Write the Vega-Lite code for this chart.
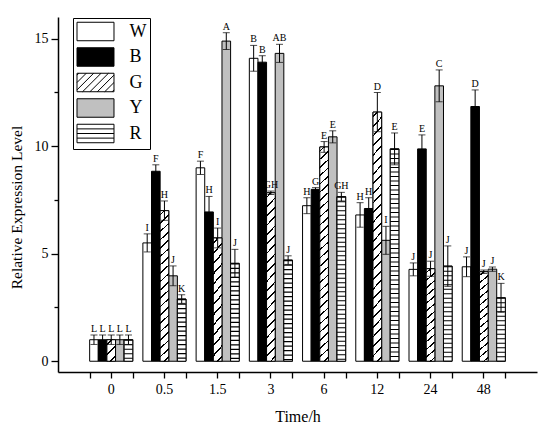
{
  "$schema": "https://vega.github.io/schema/vega-lite/v6.json",
  "width": 479,
  "height": 355,
  "autosize": "none",
  "padding": {"left": 58, "top": 17, "right": 13, "bottom": 64},
  "background": "white",
  "config": {
    "view": {"stroke": null},
    "font": "Liberation Serif",
    "axis": {"domainColor": "black", "tickColor": "black", "labelColor": "black", "titleColor": "black", "grid": false, "labelFont": "Liberation Serif", "titleFont": "Liberation Serif", "labelFontSize": 14, "titleFontSize": 16, "titleFontWeight": "normal", "tickWidth": 1.3}
  },
  "data": {"values": [
    {"time": "0", "series": "W", "value": 1.0, "lo": 0.78, "hi": 1.22, "letter": "L"},
    {"time": "0", "series": "B", "value": 1.0, "lo": 0.78, "hi": 1.22, "letter": "L"},
    {"time": "0", "series": "G", "value": 1.0, "lo": 0.78, "hi": 1.22, "letter": "L"},
    {"time": "0", "series": "Y", "value": 1.0, "lo": 0.78, "hi": 1.22, "letter": "L"},
    {"time": "0", "series": "R", "value": 1.0, "lo": 0.78, "hi": 1.22, "letter": "L"},
    {"time": "0.5", "series": "W", "value": 5.5, "lo": 5.08, "hi": 5.92, "letter": "I"},
    {"time": "0.5", "series": "B", "value": 8.83, "lo": 8.53, "hi": 9.13, "letter": "F"},
    {"time": "0.5", "series": "G", "value": 7.0, "lo": 6.55, "hi": 7.45, "letter": "H"},
    {"time": "0.5", "series": "Y", "value": 3.97, "lo": 3.51, "hi": 4.43, "letter": "J"},
    {"time": "0.5", "series": "R", "value": 2.89, "lo": 2.69, "hi": 3.09, "letter": "K"},
    {"time": "1.5", "series": "W", "value": 8.99, "lo": 8.68, "hi": 9.3, "letter": "F"},
    {"time": "1.5", "series": "B", "value": 6.94, "lo": 6.22, "hi": 7.66, "letter": "H"},
    {"time": "1.5", "series": "G", "value": 5.73, "lo": 5.27, "hi": 6.19, "letter": "I"},
    {"time": "1.5", "series": "Y", "value": 14.88, "lo": 14.49, "hi": 15.27, "letter": "A"},
    {"time": "1.5", "series": "R", "value": 4.55, "lo": 3.9, "hi": 5.2, "letter": "J"},
    {"time": "3", "series": "W", "value": 14.08, "lo": 13.48, "hi": 14.68, "letter": "B"},
    {"time": "3", "series": "B", "value": 13.9, "lo": 13.6, "hi": 14.2, "letter": "B"},
    {"time": "3", "series": "G", "value": 7.83, "lo": 7.75, "hi": 7.91, "letter": "GH"},
    {"time": "3", "series": "Y", "value": 14.31, "lo": 13.89, "hi": 14.73, "letter": "AB"},
    {"time": "3", "series": "R", "value": 4.7, "lo": 4.5, "hi": 4.9, "letter": "J"},
    {"time": "6", "series": "W", "value": 7.23, "lo": 6.86, "hi": 7.6, "letter": "H"},
    {"time": "6", "series": "B", "value": 7.99, "lo": 7.91, "hi": 8.07, "letter": "G"},
    {"time": "6", "series": "G", "value": 9.96, "lo": 9.71, "hi": 10.21, "letter": "E"},
    {"time": "6", "series": "Y", "value": 10.43, "lo": 10.15, "hi": 10.71, "letter": "E"},
    {"time": "6", "series": "R", "value": 7.65, "lo": 7.45, "hi": 7.85, "letter": "GH"},
    {"time": "12", "series": "W", "value": 6.8, "lo": 6.23, "hi": 7.37, "letter": "H"},
    {"time": "12", "series": "B", "value": 7.1, "lo": 6.6, "hi": 7.6, "letter": "H"},
    {"time": "12", "series": "G", "value": 11.58, "lo": 10.67, "hi": 12.49, "letter": "D"},
    {"time": "12", "series": "Y", "value": 5.62, "lo": 4.97, "hi": 6.27, "letter": "I"},
    {"time": "12", "series": "R", "value": 9.87, "lo": 9.13, "hi": 10.61, "letter": "E"},
    {"time": "24", "series": "W", "value": 4.27, "lo": 3.97, "hi": 4.57, "letter": "J"},
    {"time": "24", "series": "B", "value": 9.87, "lo": 9.22, "hi": 10.52, "letter": "E"},
    {"time": "24", "series": "G", "value": 4.3, "lo": 3.95, "hi": 4.65, "letter": "J"},
    {"time": "24", "series": "Y", "value": 12.8, "lo": 12.06, "hi": 13.54, "letter": "C"},
    {"time": "24", "series": "R", "value": 4.42, "lo": 3.48, "hi": 5.36, "letter": "J"},
    {"time": "48", "series": "W", "value": 4.39, "lo": 3.93, "hi": 4.85, "letter": "J"},
    {"time": "48", "series": "B", "value": 11.84, "lo": 11.07, "hi": 12.61, "letter": "D"},
    {"time": "48", "series": "G", "value": 4.16, "lo": 4.08, "hi": 4.24, "letter": "J"},
    {"time": "48", "series": "Y", "value": 4.28, "lo": 4.18, "hi": 4.38, "letter": "J"},
    {"time": "48", "series": "R", "value": 2.95, "lo": 2.28, "hi": 3.62, "letter": "K"}
  ]},
  "layer": [
    {
      "mark": {"type": "bar", "stroke": "black", "strokeWidth": 1},
      "encoding": {
        "x": {"field": "time", "type": "nominal", "sort": ["0", "0.5", "1.5", "3", "6", "12", "24", "48"], "scale": {"domain": ["0", "0.5", "1.5", "3", "6", "12", "24", "48"], "paddingInner": 0.19, "paddingOuter": 0.595},
              "axis": {"orient": "bottom", "title": "Time/h", "labelAngle": 0, "tickSize": 6, "labelPadding": 4, "titlePadding": 12, "domainWidth": 1.5}},
        "xOffset": {"field": "series", "type": "nominal", "sort": ["W", "B", "G", "Y", "R"], "scale": {"domain": ["W", "B", "G", "Y", "R"], "paddingInner": 0, "paddingOuter": 0}},
        "y": {"field": "value", "type": "quantitative", "scale": {"domain": [-0.5, 16], "nice": false, "zero": false},
              "axis": {"orient": "left", "title": "Relative Expression Level", "titleFontSize": 15.5, "titleY": 190, "values": [0, 5, 10, 15], "tickSize": 7, "labelPadding": 3, "titlePadding": 10, "domainWidth": 1.5}},
        "y2": {"datum": 0},
        "fill": {"field": "series", "type": "nominal",
          "scale": {"domain": ["W", "B", "G", "Y", "R"], "range": ["#ffffff", "#000000", "#ffffff", "#c0c0c0", "#ffffff"]},
          "legend": {"title": null, "orient": "none", "legendX": 15, "legendY": 1, "symbolType": "M-2,-1H2V1H-2Z", "symbolSize": 342, "symbolOffset": 9, "symbolStrokeColor": "black", "symbolStrokeWidth": 1, "symbolOpacity": 1, "labelFont": "Liberation Serif", "labelFontSize": 18, "labelColor": "black", "labelOffset": 24, "rowPadding": 1.5, "strokeColor": "black", "fillColor": "white", "padding": 3.5,
            "encode": {"symbols": {"update": {
              "stroke": {"value": "black"},
              "strokeWidth": {"value": 1},
              "fill": [
                {"test": "datum.value === 'B'", "value": "#000000"},
                {"test": "datum.value === 'Y'", "value": "#c0c0c0"},
                {"value": "#ffffff"}
              ],
              "shape": [
                {"test": "datum.value === 'G'", "value": "M-2,-1H2V1H-2Z M-2,-0.8L-1.8,-1 M-2,0L-1,-1 M-2,0.8L-0.2,-1 M-1.4,1L0.6,-1 M-0.6,1L1.4,-1 M0.2,1L2,-0.8 M1,1L2,0 M1.8,1L2,0.8"},
                {"test": "datum.value === 'R'", "value": "M-2,-1H2V1H-2Z M-2,-0.5H2 M-2,0H2 M-2,0.5H2"},
                {"value": "M-2,-1H2V1H-2Z"}
              ]
            }}}
          }
        }
      }
    },
    {
      "transform": [{"filter": "datum.series === 'G' || datum.series === 'R'"}],
      "mark": {"type": "bar", "stroke": "black", "strokeWidth": 1},
      "encoding": {
        "x": {"field": "time", "type": "nominal", "sort": ["0", "0.5", "1.5", "3", "6", "12", "24", "48"], "scale": {"domain": ["0", "0.5", "1.5", "3", "6", "12", "24", "48"]}, "axis": null},
        "xOffset": {"field": "series", "type": "nominal", "sort": ["W", "B", "G", "Y", "R"], "scale": {"domain": ["W", "B", "G", "Y", "R"]}},
        "y": {"field": "value", "type": "quantitative", "axis": null},
        "y2": {"datum": 0},
        "fill": {
          "condition": [
            {"test": "datum.series === 'R'", "value": "#ffffff"},
            {"test": "datum.value < 2", "value": {"gradient": "linear", "x1": 0, "y1": 0, "x2": 0.4716, "y2": 1.2065, "stops": [
              {"offset": 0.1373, "color": "#fff"}, {"offset": 0.1373, "color": "#000"}, {"offset": 0.1961, "color": "#000"}, {"offset": 0.1961, "color": "#fff"},
              {"offset": 0.4706, "color": "#fff"}, {"offset": 0.4706, "color": "#000"}, {"offset": 0.5294, "color": "#000"}, {"offset": 0.5294, "color": "#fff"},
              {"offset": 0.8039, "color": "#fff"}, {"offset": 0.8039, "color": "#000"}, {"offset": 0.8627, "color": "#000"}, {"offset": 0.8627, "color": "#fff"}]}},
            {"test": "datum.value < 6", "value": {"gradient": "linear", "x1": 0, "y1": 0, "x2": 0.0863, "y2": 1.0734, "stops": [
              {"offset": 0.0307, "color": "#fff"}, {"offset": 0.0307, "color": "#000"}, {"offset": 0.0463, "color": "#000"}, {"offset": 0.0463, "color": "#fff"},
              {"offset": 0.1076, "color": "#fff"}, {"offset": 0.1076, "color": "#000"}, {"offset": 0.1232, "color": "#000"}, {"offset": 0.1232, "color": "#fff"},
              {"offset": 0.1845, "color": "#fff"}, {"offset": 0.1845, "color": "#000"}, {"offset": 0.2001, "color": "#000"}, {"offset": 0.2001, "color": "#fff"},
              {"offset": 0.2614, "color": "#fff"}, {"offset": 0.2614, "color": "#000"}, {"offset": 0.277, "color": "#000"}, {"offset": 0.277, "color": "#fff"},
              {"offset": 0.3384, "color": "#fff"}, {"offset": 0.3384, "color": "#000"}, {"offset": 0.354, "color": "#000"}, {"offset": 0.354, "color": "#fff"},
              {"offset": 0.4153, "color": "#fff"}, {"offset": 0.4153, "color": "#000"}, {"offset": 0.4309, "color": "#000"}, {"offset": 0.4309, "color": "#fff"},
              {"offset": 0.4922, "color": "#fff"}, {"offset": 0.4922, "color": "#000"}, {"offset": 0.5078, "color": "#000"}, {"offset": 0.5078, "color": "#fff"},
              {"offset": 0.5691, "color": "#fff"}, {"offset": 0.5691, "color": "#000"}, {"offset": 0.5847, "color": "#000"}, {"offset": 0.5847, "color": "#fff"},
              {"offset": 0.646, "color": "#fff"}, {"offset": 0.646, "color": "#000"}, {"offset": 0.6616, "color": "#000"}, {"offset": 0.6616, "color": "#fff"},
              {"offset": 0.723, "color": "#fff"}, {"offset": 0.723, "color": "#000"}, {"offset": 0.7386, "color": "#000"}, {"offset": 0.7386, "color": "#fff"},
              {"offset": 0.7999, "color": "#fff"}, {"offset": 0.7999, "color": "#000"}, {"offset": 0.8155, "color": "#000"}, {"offset": 0.8155, "color": "#fff"},
              {"offset": 0.8768, "color": "#fff"}, {"offset": 0.8768, "color": "#000"}, {"offset": 0.8924, "color": "#000"}, {"offset": 0.8924, "color": "#fff"},
              {"offset": 0.9537, "color": "#fff"}, {"offset": 0.9537, "color": "#000"}, {"offset": 0.9693, "color": "#000"}, {"offset": 0.9693, "color": "#fff"}]}},
            {"test": "datum.value < 8.5", "value": {"gradient": "linear", "x1": 0, "y1": 0, "x2": 0.0565, "y2": 1.0507, "stops": [
              {"offset": 0.021, "color": "#fff"}, {"offset": 0.021, "color": "#000"}, {"offset": 0.0316, "color": "#000"}, {"offset": 0.0316, "color": "#fff"},
              {"offset": 0.0736, "color": "#fff"}, {"offset": 0.0736, "color": "#000"}, {"offset": 0.0842, "color": "#000"}, {"offset": 0.0842, "color": "#fff"},
              {"offset": 0.1263, "color": "#fff"}, {"offset": 0.1263, "color": "#000"}, {"offset": 0.1369, "color": "#000"}, {"offset": 0.1369, "color": "#fff"},
              {"offset": 0.1789, "color": "#fff"}, {"offset": 0.1789, "color": "#000"}, {"offset": 0.1895, "color": "#000"}, {"offset": 0.1895, "color": "#fff"},
              {"offset": 0.2315, "color": "#fff"}, {"offset": 0.2315, "color": "#000"}, {"offset": 0.2421, "color": "#000"}, {"offset": 0.2421, "color": "#fff"},
              {"offset": 0.2842, "color": "#fff"}, {"offset": 0.2842, "color": "#000"}, {"offset": 0.2948, "color": "#000"}, {"offset": 0.2948, "color": "#fff"},
              {"offset": 0.3368, "color": "#fff"}, {"offset": 0.3368, "color": "#000"}, {"offset": 0.3474, "color": "#000"}, {"offset": 0.3474, "color": "#fff"},
              {"offset": 0.3894, "color": "#fff"}, {"offset": 0.3894, "color": "#000"}, {"offset": 0.4, "color": "#000"}, {"offset": 0.4, "color": "#fff"},
              {"offset": 0.4421, "color": "#fff"}, {"offset": 0.4421, "color": "#000"}, {"offset": 0.4527, "color": "#000"}, {"offset": 0.4527, "color": "#fff"},
              {"offset": 0.4947, "color": "#fff"}, {"offset": 0.4947, "color": "#000"}, {"offset": 0.5053, "color": "#000"}, {"offset": 0.5053, "color": "#fff"},
              {"offset": 0.5473, "color": "#fff"}, {"offset": 0.5473, "color": "#000"}, {"offset": 0.5579, "color": "#000"}, {"offset": 0.5579, "color": "#fff"},
              {"offset": 0.6, "color": "#fff"}, {"offset": 0.6, "color": "#000"}, {"offset": 0.6106, "color": "#000"}, {"offset": 0.6106, "color": "#fff"},
              {"offset": 0.6526, "color": "#fff"}, {"offset": 0.6526, "color": "#000"}, {"offset": 0.6632, "color": "#000"}, {"offset": 0.6632, "color": "#fff"},
              {"offset": 0.7052, "color": "#fff"}, {"offset": 0.7052, "color": "#000"}, {"offset": 0.7158, "color": "#000"}, {"offset": 0.7158, "color": "#fff"},
              {"offset": 0.7579, "color": "#fff"}, {"offset": 0.7579, "color": "#000"}, {"offset": 0.7685, "color": "#000"}, {"offset": 0.7685, "color": "#fff"},
              {"offset": 0.8105, "color": "#fff"}, {"offset": 0.8105, "color": "#000"}, {"offset": 0.8211, "color": "#000"}, {"offset": 0.8211, "color": "#fff"},
              {"offset": 0.8631, "color": "#fff"}, {"offset": 0.8631, "color": "#000"}, {"offset": 0.8737, "color": "#000"}, {"offset": 0.8737, "color": "#fff"},
              {"offset": 0.9158, "color": "#fff"}, {"offset": 0.9158, "color": "#000"}, {"offset": 0.9264, "color": "#000"}, {"offset": 0.9264, "color": "#fff"},
              {"offset": 0.9684, "color": "#fff"}, {"offset": 0.9684, "color": "#000"}, {"offset": 0.979, "color": "#000"}, {"offset": 0.979, "color": "#fff"}]}}
          ],
          "value": {"gradient": "linear", "x1": 0, "y1": 0, "x2": 0.0384, "y2": 1.0357, "stops": [
            {"offset": 0.0148, "color": "#fff"}, {"offset": 0.0148, "color": "#000"}, {"offset": 0.0222, "color": "#000"}, {"offset": 0.0222, "color": "#fff"},
            {"offset": 0.0519, "color": "#fff"}, {"offset": 0.0519, "color": "#000"}, {"offset": 0.0593, "color": "#000"}, {"offset": 0.0593, "color": "#fff"},
            {"offset": 0.0889, "color": "#fff"}, {"offset": 0.0889, "color": "#000"}, {"offset": 0.0963, "color": "#000"}, {"offset": 0.0963, "color": "#fff"},
            {"offset": 0.1259, "color": "#fff"}, {"offset": 0.1259, "color": "#000"}, {"offset": 0.1333, "color": "#000"}, {"offset": 0.1333, "color": "#fff"},
            {"offset": 0.163, "color": "#fff"}, {"offset": 0.163, "color": "#000"}, {"offset": 0.1704, "color": "#000"}, {"offset": 0.1704, "color": "#fff"},
            {"offset": 0.2, "color": "#fff"}, {"offset": 0.2, "color": "#000"}, {"offset": 0.2074, "color": "#000"}, {"offset": 0.2074, "color": "#fff"},
            {"offset": 0.237, "color": "#fff"}, {"offset": 0.237, "color": "#000"}, {"offset": 0.2444, "color": "#000"}, {"offset": 0.2444, "color": "#fff"},
            {"offset": 0.2741, "color": "#fff"}, {"offset": 0.2741, "color": "#000"}, {"offset": 0.2815, "color": "#000"}, {"offset": 0.2815, "color": "#fff"},
            {"offset": 0.3111, "color": "#fff"}, {"offset": 0.3111, "color": "#000"}, {"offset": 0.3185, "color": "#000"}, {"offset": 0.3185, "color": "#fff"},
            {"offset": 0.3482, "color": "#fff"}, {"offset": 0.3482, "color": "#000"}, {"offset": 0.3556, "color": "#000"}, {"offset": 0.3556, "color": "#fff"},
            {"offset": 0.3852, "color": "#fff"}, {"offset": 0.3852, "color": "#000"}, {"offset": 0.3926, "color": "#000"}, {"offset": 0.3926, "color": "#fff"},
            {"offset": 0.4222, "color": "#fff"}, {"offset": 0.4222, "color": "#000"}, {"offset": 0.4296, "color": "#000"}, {"offset": 0.4296, "color": "#fff"},
            {"offset": 0.4593, "color": "#fff"}, {"offset": 0.4593, "color": "#000"}, {"offset": 0.4667, "color": "#000"}, {"offset": 0.4667, "color": "#fff"},
            {"offset": 0.4963, "color": "#fff"}, {"offset": 0.4963, "color": "#000"}, {"offset": 0.5037, "color": "#000"}, {"offset": 0.5037, "color": "#fff"},
            {"offset": 0.5333, "color": "#fff"}, {"offset": 0.5333, "color": "#000"}, {"offset": 0.5407, "color": "#000"}, {"offset": 0.5407, "color": "#fff"},
            {"offset": 0.5704, "color": "#fff"}, {"offset": 0.5704, "color": "#000"}, {"offset": 0.5778, "color": "#000"}, {"offset": 0.5778, "color": "#fff"},
            {"offset": 0.6074, "color": "#fff"}, {"offset": 0.6074, "color": "#000"}, {"offset": 0.6148, "color": "#000"}, {"offset": 0.6148, "color": "#fff"},
            {"offset": 0.6444, "color": "#fff"}, {"offset": 0.6444, "color": "#000"}, {"offset": 0.6518, "color": "#000"}, {"offset": 0.6518, "color": "#fff"},
            {"offset": 0.6815, "color": "#fff"}, {"offset": 0.6815, "color": "#000"}, {"offset": 0.6889, "color": "#000"}, {"offset": 0.6889, "color": "#fff"},
            {"offset": 0.7185, "color": "#fff"}, {"offset": 0.7185, "color": "#000"}, {"offset": 0.7259, "color": "#000"}, {"offset": 0.7259, "color": "#fff"},
            {"offset": 0.7556, "color": "#fff"}, {"offset": 0.7556, "color": "#000"}, {"offset": 0.763, "color": "#000"}, {"offset": 0.763, "color": "#fff"},
            {"offset": 0.7926, "color": "#fff"}, {"offset": 0.7926, "color": "#000"}, {"offset": 0.8, "color": "#000"}, {"offset": 0.8, "color": "#fff"},
            {"offset": 0.8296, "color": "#fff"}, {"offset": 0.8296, "color": "#000"}, {"offset": 0.837, "color": "#000"}, {"offset": 0.837, "color": "#fff"},
            {"offset": 0.8667, "color": "#fff"}, {"offset": 0.8667, "color": "#000"}, {"offset": 0.8741, "color": "#000"}, {"offset": 0.8741, "color": "#fff"},
            {"offset": 0.9037, "color": "#fff"}, {"offset": 0.9037, "color": "#000"}, {"offset": 0.9111, "color": "#000"}, {"offset": 0.9111, "color": "#fff"},
            {"offset": 0.9407, "color": "#fff"}, {"offset": 0.9407, "color": "#000"}, {"offset": 0.9481, "color": "#000"}, {"offset": 0.9481, "color": "#fff"},
            {"offset": 0.9778, "color": "#fff"}, {"offset": 0.9778, "color": "#000"}, {"offset": 0.9852, "color": "#000"}, {"offset": 0.9852, "color": "#fff"}]}
        }
      }
    },
    {
      "transform": [{"filter": "datum.series === 'R'"}],
      "mark": {"type": "rule", "color": "black", "strokeWidth": 8.6, "strokeDash": [1.1, 3.4], "strokeCap": "butt"},
      "encoding": {
        "x": {"field": "time", "type": "nominal", "sort": ["0", "0.5", "1.5", "3", "6", "12", "24", "48"], "scale": {"domain": ["0", "0.5", "1.5", "3", "6", "12", "24", "48"]}, "axis": null},
        "xOffset": {"field": "series", "type": "nominal", "sort": ["W", "B", "G", "Y", "R"], "scale": {"domain": ["W", "B", "G", "Y", "R"]}},
        "y": {"field": "value", "type": "quantitative", "axis": null},
        "y2": {"datum": 0}
      }
    },
    {
      "mark": {"type": "rule", "color": "black", "strokeWidth": 1},
      "encoding": {
        "x": {"field": "time", "type": "nominal", "sort": ["0", "0.5", "1.5", "3", "6", "12", "24", "48"], "scale": {"domain": ["0", "0.5", "1.5", "3", "6", "12", "24", "48"]},
              "axis": {"orient": "bottom", "tickBand": "extent", "labels": false, "domain": false, "title": null, "tickSize": 6}},
        "xOffset": {"field": "series", "type": "nominal", "sort": ["W", "B", "G", "Y", "R"], "scale": {"domain": ["W", "B", "G", "Y", "R"]}},
        "y": {"field": "lo", "type": "quantitative",
              "axis": {"orient": "left", "values": [2.5, 7.5, 12.5], "labels": false, "domain": false, "title": null, "tickSize": 4}},
        "y2": {"field": "hi"}
      }
    },
    {
      "mark": {"type": "tick", "color": "black", "thickness": 1, "size": 7},
      "encoding": {
        "x": {"field": "time", "type": "nominal", "sort": ["0", "0.5", "1.5", "3", "6", "12", "24", "48"], "scale": {"domain": ["0", "0.5", "1.5", "3", "6", "12", "24", "48"]}, "axis": null},
        "xOffset": {"field": "series", "type": "nominal", "sort": ["W", "B", "G", "Y", "R"], "scale": {"domain": ["W", "B", "G", "Y", "R"]}},
        "y": {"field": "hi", "type": "quantitative", "axis": null}
      }
    },
    {
      "mark": {"type": "tick", "color": "black", "thickness": 1, "size": 7},
      "encoding": {
        "x": {"field": "time", "type": "nominal", "sort": ["0", "0.5", "1.5", "3", "6", "12", "24", "48"], "scale": {"domain": ["0", "0.5", "1.5", "3", "6", "12", "24", "48"]}, "axis": null},
        "xOffset": {"field": "series", "type": "nominal", "sort": ["W", "B", "G", "Y", "R"], "scale": {"domain": ["W", "B", "G", "Y", "R"]}},
        "y": {"field": "lo", "type": "quantitative", "axis": null}
      }
    },
    {
      "mark": {"type": "text", "font": "Liberation Serif", "fontSize": 10, "color": "black", "baseline": "alphabetic", "dy": -3},
      "encoding": {
        "x": {"field": "time", "type": "nominal", "sort": ["0", "0.5", "1.5", "3", "6", "12", "24", "48"], "scale": {"domain": ["0", "0.5", "1.5", "3", "6", "12", "24", "48"]}, "axis": null},
        "xOffset": {"field": "series", "type": "nominal", "sort": ["W", "B", "G", "Y", "R"], "scale": {"domain": ["W", "B", "G", "Y", "R"]}},
        "y": {"field": "hi", "type": "quantitative", "axis": null},
        "text": {"field": "letter"}
      }
    }
  ],
  "resolve": {"axis": {"x": "independent", "y": "independent"}}
}
